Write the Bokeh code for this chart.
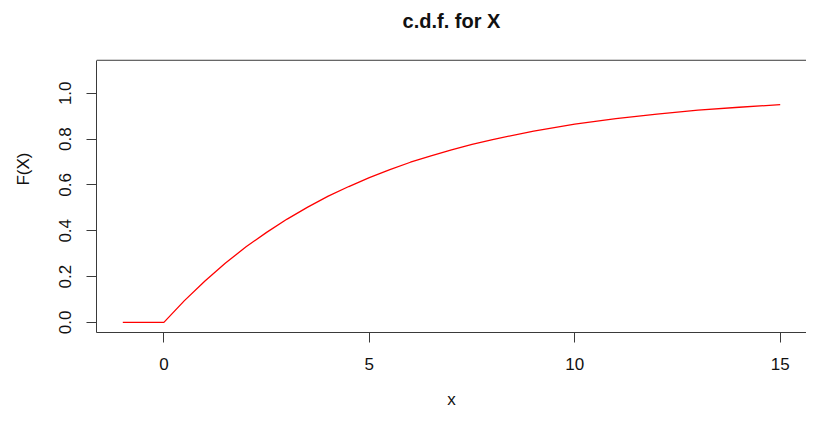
from bokeh.plotting import figure
from bokeh.models import Range1d, FixedTicker, LinearAxis, Span, Label
from bokeh.embed import file_html
from bokeh.resources import INLINE

# values
x_vals = [-1, 0, 0.5, 1, 1.5, 2, 2.5, 3, 3.5, 4, 4.5, 5, 5.5, 6, 6.5, 7, 7.5, 8,
          9, 10, 11, 12, 13, 14, 15]
F_vals = [0.0, 0.0, 0.095, 0.181, 0.259, 0.330, 0.393, 0.451, 0.503, 0.551, 0.593,
          0.632, 0.667, 0.699, 0.727, 0.753, 0.777, 0.798,
          0.835, 0.865, 0.889, 0.909, 0.926, 0.939, 0.950]
x_ticks = [0, 5, 10, 15]
y_ticks = [0.0, 0.2, 0.4, 0.6, 0.8, 1.0]
y_tick_labels = {0.0: "0.0", 0.2: "0.2", 0.4: "0.4", 0.6: "0.6", 0.8: "0.8", 1.0: "1.0"}
title_text = "c.d.f. for X"
x_label = "x"
y_label = "F(X)"

FONT = "Liberation Sans"
AX = "#3a3a3a"
TXT = "#111111"

Y_LO, Y_HI = -0.044, 1.144      # plotting region (box) limits
Y_TOP = 1.383                   # extra headroom in the canvas for the title
TITLE_Y = 1.314

p = figure(width=806, height=411, output_backend="svg", toolbar_location=None,
           x_range=Range1d(-1.64, 15.64), y_range=Range1d(Y_LO, Y_TOP),
           min_border_left=96, min_border_right=0, min_border_top=5, min_border_bottom=78,
           x_axis_location=None, y_axis_location=None)
p.outline_line_color = None
p.grid.visible = False
p.background_fill_color = "white"
p.border_fill_color = "white"

xa = LinearAxis(ticker=FixedTicker(ticks=x_ticks), axis_label=x_label)
xa.major_tick_out = 10
xa.major_tick_in = 0
xa.minor_tick_line_color = None
xa.axis_line_color = AX
xa.major_tick_line_color = AX
xa.major_label_text_font = FONT
xa.major_label_text_font_size = "17px"
xa.major_label_text_color = TXT
xa.major_label_standoff = 15
xa.axis_label_text_font = FONT
xa.axis_label_text_font_size = "17px"
xa.axis_label_text_font_style = "normal"
xa.axis_label_text_color = TXT
xa.axis_label_standoff = 17
p.add_layout(xa, "below")

ya = LinearAxis(ticker=FixedTicker(ticks=y_ticks), axis_label=y_label, bounds=(Y_LO, Y_HI))
ya.major_label_overrides = y_tick_labels
ya.major_tick_out = 10
ya.major_tick_in = 0
ya.minor_tick_line_color = None
ya.axis_line_color = AX
ya.major_tick_line_color = AX
ya.major_label_text_font = FONT
ya.major_label_text_font_size = "17px"
ya.major_label_text_color = TXT
ya.major_label_orientation = "vertical"
ya.major_label_standoff = 15
ya.axis_label_text_font = FONT
ya.axis_label_text_font_size = "17px"
ya.axis_label_text_font_style = "normal"
ya.axis_label_text_color = TXT
ya.axis_label_standoff = 24
p.add_layout(ya, "left")

# top edge of the plot box
p.add_layout(Span(location=Y_HI, dimension="width", line_color=AX, line_width=1))

p.line(x_vals, F_vals, line_color="#FF0000", line_width=1.3)

p.add_layout(Label(x=7, y=TITLE_Y, text=title_text, text_font=FONT, text_font_size="20px",
                   text_font_style="bold", text_align="center", text_baseline="middle",
                   text_color=TXT))

open("out.html", "w").write(file_html(p, INLINE))
